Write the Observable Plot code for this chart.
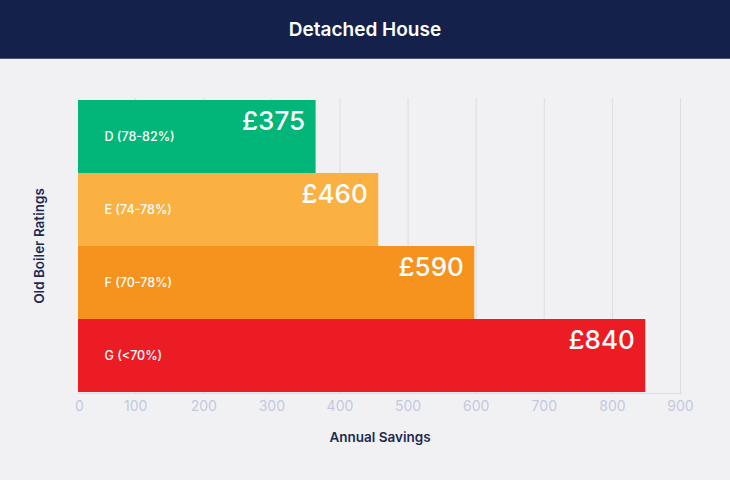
<!DOCTYPE html>
<html><head><meta charset="utf-8">
<script src="https://cdn.jsdelivr.net/npm/d3@7"></script>
<script src="https://cdn.jsdelivr.net/npm/@observablehq/plot@0.6"></script>
<style>
body{margin:0;background:#f1f1f4;font-family:Inter,sans-serif;}
#header{height:59px;background:#13214b;color:#fff;font-size:19px;font-weight:600;text-align:center;line-height:59px;width:730px;border-bottom:1px solid #4a5575;box-sizing:border-box;}
#chart{width:730px;}
</style></head><body>
<div id="header">Detached House</div>
<div id="chart"></div>
<script>
const ratings = ["D (78-82%)", "E (74-78%)", "F (70-78%)", "G (<70%)"];
const savingsLabels = [375, 460, 590, 840];
const barLengths = [365, 457, 598, 849];
const colors = ["#02b67a", "#fbb042", "#f6921e", "#ec1c24"];
const xTicks = [0, 100, 200, 300, 400, 500, 600, 700, 800, 900];

const data = ratings.map((r, i) => ({rating: r, length: barLengths[i], saving: savingsLabels[i]}));

const chart = Plot.plot({
  width: 730, height: 421,
  marginLeft: 78, marginRight: 49, marginTop: 39, marginBottom: 87,
  style: {background: "transparent", fontFamily: "Inter, sans-serif"},
  x: {domain: [0, 900], range: [67, 680], axis: null},
  y: {domain: ratings, padding: 0, axis: null},
  color: {domain: ratings, range: colors},
  marks: [
    Plot.ruleX(xTicks.slice(1), {x: d => d, stroke: "#dadde6", strokeWidth: 1}),
    Plot.frame({anchor: "bottom", stroke: "#dadde6"}),
    Plot.barX(data, {y: "rating", x: "length", fill: "rating", clip: true}),
    Plot.text(data, {y: "rating", frameAnchor: "left", text: "rating", textAnchor: "start", dx: 26, fill: "white", fontSize: 12.5, fontWeight: 500}),
    Plot.text(data, {y: "rating", x: "length", text: d => "£" + d.saving, textAnchor: "end", dx: -11, dy: -15, fill: "white", fontSize: 26, fontWeight: 500}),
    Plot.text(xTicks.slice(1), {x: d => d, text: d => String(d), frameAnchor: "bottom", dy: 17, fill: "#c3c9dd", fontSize: 14}),
    Plot.text(xTicks.slice(0, 1), {frameAnchor: "bottom-left", text: d => String(d), textAnchor: "middle", dx: 1, dy: 17, fill: "#c3c9dd", fontSize: 14}),
    Plot.text(["Annual Savings"], {frameAnchor: "bottom", dy: 48, fill: "#1b2a52", fontSize: 13.5, fontWeight: 600}),
    Plot.text(["Old Boiler Ratings"], {frameAnchor: "left", textAnchor: "middle", dx: -39, rotate: -90, fill: "#1b2a52", fontSize: 13.5, fontWeight: 600})
  ]
});
document.getElementById("chart").appendChild(chart);
</script>
</body></html>
